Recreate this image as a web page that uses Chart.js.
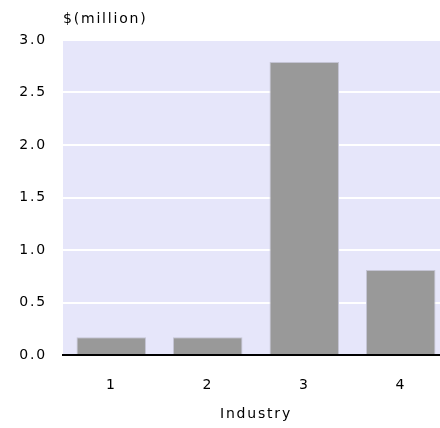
<!DOCTYPE html>
<html>
<head>
<meta charset="utf-8">
<script src="https://cdn.jsdelivr.net/npm/chart.js@4"></script>
<style>
  html, body { margin: 0; padding: 0; background: #fff; overflow: hidden; }
  #wrap { width: 449px; height: 428px; }
</style>
</head>
<body>
<div id="wrap"><canvas id="chart"></canvas></div>
<script>
const industries = ['1', '2', '3', '4'];
const revenue = [0.17, 0.17, 2.79, 0.81];
const yTicks = [0, 0.5, 1.0, 1.5, 2.0, 2.5, 3.0];

const FONT = 'DejaVu Sans';
const SIZE = 14;
const SPACING = '1.8px';

// the old chart font is wide and loosely spaced
const spacing = {
  id: 'spacing',
  beforeUpdate(chart) { chart.ctx.letterSpacing = SPACING; },
  beforeDraw(chart) { chart.ctx.letterSpacing = SPACING; }
};

// lavender plot background + unit label above the plot
const plotDeco = {
  id: 'plotDeco',
  beforeDraw(chart) {
    const { ctx, chartArea: a } = chart;
    ctx.save();
    ctx.fillStyle = '#e6e6fa';
    ctx.fillRect(a.left, a.top, a.right - a.left, a.bottom - a.top);
    ctx.fillStyle = '#000';
    ctx.font = SIZE + 'px "' + FONT + '"';
    ctx.textBaseline = 'middle';
    ctx.fillText('$(million)', a.left, a.top - 21);
    ctx.restore();
  }
};

new Chart(document.getElementById('chart'), {
  type: 'bar',
  data: {
    labels: industries,
    datasets: [{
      data: revenue,
      backgroundColor: '#999999',
      borderColor: '#c4c4d4',
      borderWidth: 1,
      barPercentage: 0.72,
      categoryPercentage: 1
    }]
  },
  options: {
    responsive: true,
    maintainAspectRatio: false,
    animation: false,
    layout: { padding: { top: 40, left: 0, right: 0, bottom: 0 } },
    plugins: { legend: { display: false }, tooltip: { enabled: false } },
    scales: {
      x: {
        grid: { display: false, drawTicks: false },
        border: { display: true, color: '#000', width: 2 },
        ticks: { color: '#000', font: { family: FONT, size: SIZE }, padding: 22 },
        title: { display: true, text: 'Industry', color: '#000', font: { family: FONT, size: SIZE }, padding: { top: 4, bottom: 5 } },
        afterFit(s) { s.height = 73; }
      },
      y: {
        min: 0, max: 3,
        grid: { color: '#ffffff', lineWidth: 2, drawTicks: false },
        border: { display: false },
        afterBuildTicks(s) { s.ticks = yTicks.map(v => ({ value: v })); },
        ticks: {
          color: '#000', font: { family: FONT, size: SIZE }, padding: 16,
          callback: v => v.toFixed(1)
        },
        afterFit(s) { s.width = 63; }
      }
    }
  },
  plugins: [spacing, plotDeco]
});
</script>
</body>
</html>
